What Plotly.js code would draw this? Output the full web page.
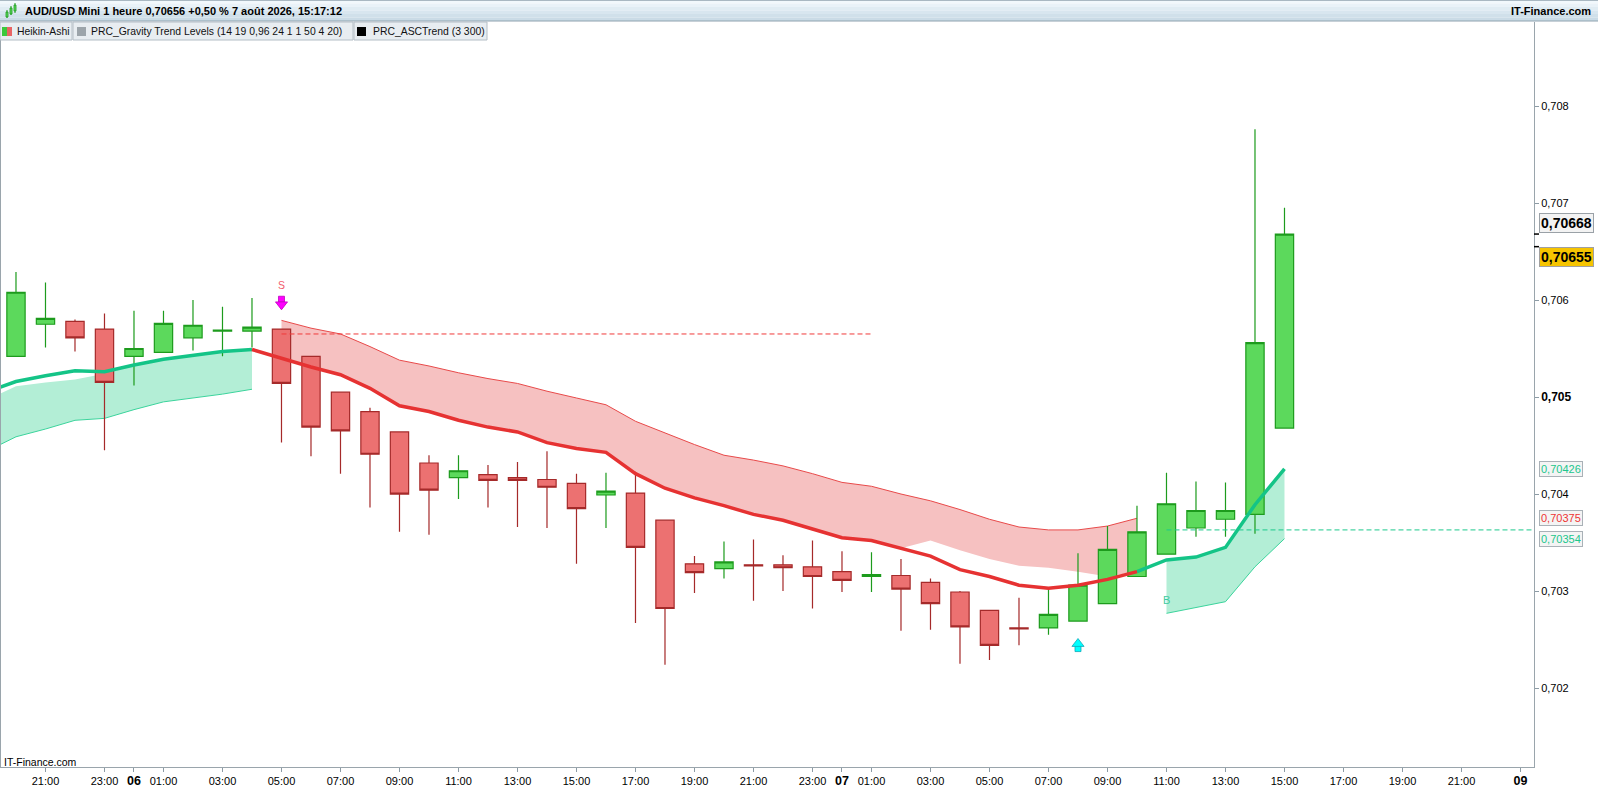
<!DOCTYPE html>
<html><head><meta charset="utf-8">
<script src="https://cdn.plot.ly/plotly-3.0.1.min.js"></script>
<style>html,body{margin:0;padding:0;background:#fff;overflow:hidden}#chart{width:1598px;height:787px}</style>
</head><body><div id="chart"></div>
<script>
// ---------- DATA ----------
// hours counted from 06 Aug 00:00
const hours  = [-4,-3,-2,-1,0,1,2,3,4,5,6,7,8,9,10,11,12,13,14,15,16,17,18,19,20,21,22,23,24,25,26,27,28,29,30,31,32,33,34,35,36,37,38,39];
const openP  = [0.70542,0.70575,0.70578,0.70570,0.70542,0.70546,0.70561,0.70568,0.70568,0.70570,0.70542,0.70505,0.70485,0.70464,0.70432,0.70417,0.70420,0.70417,0.70415,0.70411,0.70399,0.70401,0.70373,0.70328,0.70323,0.70327,0.70327,0.70325,0.70320,0.70315,0.70316,0.70309,0.70299,0.70280,0.70262,0.70262,0.70269,0.70287,0.70315,0.70338,0.70365,0.70374,0.70379,0.70468];
const highP  = [0.70629,0.70618,0.70580,0.70586,0.70589,0.70589,0.70600,0.70593,0.70602,0.70570,0.70542,0.70505,0.70489,0.70464,0.70440,0.70440,0.70430,0.70433,0.70444,0.70421,0.70422,0.70423,0.70373,0.70336,0.70351,0.70353,0.70337,0.70352,0.70341,0.70340,0.70333,0.70313,0.70300,0.70280,0.70293,0.70301,0.70339,0.70367,0.70388,0.70422,0.70413,0.70412,0.70776,0.70695];
const lowP   = [0.70542,0.70551,0.70547,0.70445,0.70512,0.70546,0.70548,0.70542,0.70551,0.70453,0.70439,0.70421,0.70386,0.70361,0.70358,0.70395,0.70386,0.70366,0.70365,0.70328,0.70365,0.70267,0.70224,0.70298,0.70313,0.70290,0.70300,0.70282,0.70299,0.70299,0.70259,0.70260,0.70225,0.70229,0.70244,0.70255,0.70269,0.70287,0.70315,0.70338,0.70356,0.70356,0.70359,0.70468];
const closeP = [0.70608,0.70581,0.70561,0.70515,0.70550,0.70576,0.70574,0.70569,0.70572,0.70514,0.70469,0.70465,0.70441,0.70400,0.70404,0.70424,0.70414,0.70414,0.70407,0.70385,0.70403,0.70345,0.70282,0.70319,0.70330,0.70326,0.70324,0.70315,0.70311,0.70317,0.70302,0.70287,0.70263,0.70244,0.70261,0.70276,0.70306,0.70343,0.70361,0.70390,0.70383,0.70383,0.70556,0.70668];

// ASCTrend / gravity centre line
const trendHours = [-5,-4,-3,-2,-1,0,1,2,3,4,5,6,7,8,9,10,11,12,13,14,15,16,17,18,19,20,21,22,23,24,25,26,27,28,29,30,31,32,33,34,35,36,37,38,39];
const trendVal   = [0.70505,0.70516,0.70522,0.70527,0.70526,0.70533,0.70539,0.70543,0.70547,0.70549,0.70540,0.70531,0.70523,0.70509,0.70491,0.70485,0.70476,0.70469,0.70464,0.70453,0.70447,0.70443,0.70421,0.70406,0.70396,0.70388,0.70379,0.70373,0.70364,0.70355,0.70352,0.70344,0.70336,0.70322,0.70315,0.70306,0.70303,0.70306,0.70312,0.70320,0.70332,0.70335,0.70345,0.70389,0.70426];
const trendDir   = [1,1,1,1,1,1,1,1,1,1,-1,-1,-1,-1,-1,-1,-1,-1,-1,-1,-1,-1,-1,-1,-1,-1,-1,-1,-1,-1,-1,-1,-1,-1,-1,-1,-1,-1,-1,-1,1,1,1,1,1];

// up-trend band #1
const upHoursA = [-5,-4,-3,-2,-1,0,1,2,3,4];
const upLowA   = [0.70444,0.70459,0.70467,0.70476,0.70478,0.70487,0.70495,0.70499,0.70503,0.70508];
const upTopA   = [0.70497,0.70511,0.70515,0.70518,0.70524,0.70533,0.70539,0.70543,0.70547,0.70549];
// down-trend band
const downHours = [5,6,7,8,9,10,11,12,13,14,15,16,17,18,19,20,21,22,23,24,25,26,27,28,29,30,31,32,33,34];
const downHigh  = [0.70579,0.70571,0.70565,0.70552,0.70538,0.70532,0.70525,0.70519,0.70514,0.70506,0.70499,0.70492,0.70475,0.70463,0.70451,0.70440,0.70435,0.70429,0.70421,0.70412,0.70408,0.70400,0.70393,0.70384,0.70374,0.70366,0.70363,0.70363,0.70367,0.70375];
const downLow   = [0.70540,0.70531,0.70523,0.70509,0.70491,0.70485,0.70476,0.70469,0.70464,0.70453,0.70447,0.70443,0.70421,0.70406,0.70396,0.70388,0.70379,0.70373,0.70364,0.70355,0.70352,0.70344,0.70352,0.70342,0.70333,0.70326,0.70324,0.70320,0.70315,0.70320];
// up-trend band #2
const upHoursB = [35,36,37,38,39];
const upLowB   = [0.70277,0.70283,0.70289,0.70325,0.70354];

// horizontal levels
const sellLevel = {value:0.70565, from:5, to:25};
const buyLevel  = {value:0.70363, from:35, to:48};
// signals
const sellSignal = {hour:5, tip:0.70590, label:'S', labelPrice:0.70616};
const buySignal  = {hour:32, tip:0.70251};
const buyLabel   = {hour:35, price:0.70291, label:'B'};
const lastQuote  = 0.70655;

// axes
const xTickVals = [-3,-1,0,1,3,5,7,9,11,13,15,17,19,21,23,24,25,27,29,31,33,35,37,39,41,43,45,47];
const xTickText = ['21:00','23:00','06','01:00','03:00','05:00','07:00','09:00','11:00','13:00','15:00','17:00','19:00','21:00','23:00','07','01:00','03:00','05:00','07:00','09:00','11:00','13:00','15:00','17:00','19:00','21:00','09'];
const dayTicks  = ['06','07','09'];
const yTickVals = [0.702,0.703,0.704,0.705,0.706,0.707,0.708];
const yTickText = ['0,702','0,703','0,704','0,705','0,706','0,707','0,708'];
const yMajor    = '0,705';

// ---------- GEOMETRY ----------
const W=1598,H=787,ML=1,MR=64,MT=22,MB=20;
const PW=W-ML-MR, PH=H-MT-MB;
const xRange=[-4.508,47.458], yRange=[0.701186,0.708866];
const upp=(yRange[1]-yRange[0])/PH;
const px=p=>(p-ML)/PW, py=p=>(H-MB-p)/PH;
const fmt=v=>v.toFixed(5).replace('.',',');

const GREEN='#14c487', GREENFILL='#b3eed6', GREENTHIN='#3bd49c';
const RED='#e63232', REDFILL='#f6c1c1', REDTHIN='#e84a4a';

const traces=[];
// fills (base subplot)
traces.push({x:upHoursA,y:upLowA,type:'scatter',mode:'lines',line:{color:GREENTHIN,width:1},hoverinfo:'skip'});
traces.push({x:upHoursA,y:upTopA,type:'scatter',mode:'lines',line:{width:0},fill:'tonexty',fillcolor:GREENFILL,hoverinfo:'skip'});
traces.push({x:downHours,y:downLow,type:'scatter',mode:'lines',line:{width:0},hoverinfo:'skip'});
traces.push({x:downHours,y:downHigh,type:'scatter',mode:'lines',line:{color:REDTHIN,width:1},fill:'tonexty',fillcolor:REDFILL,hoverinfo:'skip'});
const upTopB = upHoursB.map(h=>trendVal[trendHours.indexOf(h)]);
traces.push({x:upHoursB,y:upLowB,type:'scatter',mode:'lines',line:{color:GREENTHIN,width:1},hoverinfo:'skip'});
traces.push({x:upHoursB,y:upTopB,type:'scatter',mode:'lines',line:{width:0},fill:'tonexty',fillcolor:GREENFILL,hoverinfo:'skip'});

// candles (overlay subplot)
traces.push({type:'candlestick',x:hours,open:openP,high:highP,low:lowP,close:closeP,xaxis:'x2',yaxis:'y2',
  whiskerwidth:0,hoverinfo:'skip',
  increasing:{fillcolor:'#5cd95c',line:{color:'#1d9b1d',width:1.2}},
  decreasing:{fillcolor:'#ec7171',line:{color:'#a52a2a',width:1.2}}});

// trend segments
function seg(dir){
  const xs=[],ys=[];
  for(let i=1;i<trendHours.length;i++){
    if(trendDir[i]!==dir) continue;
    if(i===1||trendDir[i-1]!==dir||(i-1===0)){
      if(xs.length) {xs.push(null);ys.push(null);}
      xs.push(trendHours[i-1]); ys.push(trendVal[i-1]);
    }
    xs.push(trendHours[i]); ys.push(trendVal[i]);
  }
  return {xs,ys};
}
const gs=seg(1), rs=seg(-1);
traces.push({x:gs.xs,y:gs.ys,type:'scatter',mode:'lines',line:{color:GREEN,width:3.5},xaxis:'x2',yaxis:'y2',hoverinfo:'skip'});
traces.push({x:rs.xs,y:rs.ys,type:'scatter',mode:'lines',line:{color:RED,width:3.5},xaxis:'x2',yaxis:'y2',hoverinfo:'skip'});

// levels
traces.push({x:[sellLevel.from,sellLevel.to],y:[sellLevel.value,sellLevel.value],type:'scatter',mode:'lines',line:{color:'#f03a3a',width:1,dash:'5px,3px'},xaxis:'x2',yaxis:'y2',hoverinfo:'skip'});
traces.push({x:[buyLevel.from,buyLevel.to],y:[buyLevel.value,buyLevel.value],type:'scatter',mode:'lines',line:{color:'#1cc98c',width:1,dash:'5px,3px'},xaxis:'x2',yaxis:'y2',hoverinfo:'skip'});

// arrows
traces.push({x:[sellSignal.hour],y:[sellSignal.tip+10.5*upp],type:'scatter',mode:'markers',marker:{symbol:'square',size:6,color:'#ff00ff',line:{color:'#c000c0',width:0.8}},xaxis:'x2',yaxis:'y2',hoverinfo:'skip'});
traces.push({x:[sellSignal.hour],y:[sellSignal.tip+5.2*upp],type:'scatter',mode:'markers',marker:{symbol:'triangle-down',size:10.5,color:'#ff00ff',line:{color:'#c000c0',width:0.8}},xaxis:'x2',yaxis:'y2',hoverinfo:'skip'});
traces.push({x:[buySignal.hour],y:[buySignal.tip-10*upp],type:'scatter',mode:'markers',marker:{symbol:'square',size:6,color:'#00ffff',line:{color:'#10a8b8',width:0.8}},xaxis:'x2',yaxis:'y2',hoverinfo:'skip'});
traces.push({x:[buySignal.hour],y:[buySignal.tip-5.2*upp],type:'scatter',mode:'markers',marker:{symbol:'triangle-up',size:10.5,color:'#00ffff',line:{color:'#10a8b8',width:0.8}},xaxis:'x2',yaxis:'y2',hoverinfo:'skip'});

// ---------- LAYOUT ----------
const FONT='"Liberation Sans", Arial, sans-serif';
const shapes=[], ann=[];
// header row gradient
const grad=['#f1f8fc','#e9f2f8','#e0ecf3','#d8e6ef','#d0e0ea','#cadbe6'];
for(let i=0;i<grad.length;i++){
  const a=i*21/grad.length, b=(i+1)*21/grad.length;
  shapes.push({type:'rect',xref:'paper',yref:'paper',x0:px(-2),x1:px(W+2),y0:py(b),y1:py(a),fillcolor:grad[i],line:{width:0},layer:'above'});
}
shapes.push({type:'line',xref:'paper',yref:'paper',x0:px(-2),x1:px(W+2),y0:py(21),y1:py(21),line:{color:'#8fa2af',width:1},layer:'above'});
shapes.push({type:'line',xref:'paper',yref:'paper',x0:px(-2),x1:px(W+2),y0:py(0.5),y1:py(0.5),line:{color:'#a9b8c2',width:1},layer:'above'});
// header icon candles
[[6,8,12,17,10,18],[10,12,8,14,6,15],[14,16,5,11,3,13]].forEach(c=>{
  shapes.push({type:'line',xref:'paper',yref:'paper',x0:px((c[0]+c[1])/2),x1:px((c[0]+c[1])/2),y0:py(c[5]),y1:py(c[4]),line:{color:'#1d9b1d',width:1},layer:'above'});
  shapes.push({type:'rect',xref:'paper',yref:'paper',x0:px(c[0]),x1:px(c[1]),y0:py(c[3]),y1:py(c[2]),fillcolor:'#5cd95c',line:{color:'#1d9b1d',width:0.8},layer:'above'});
});
ann.push({xref:'paper',yref:'paper',x:px(23),y:py(11),xanchor:'left',yanchor:'middle',showarrow:false,text:'<b>AUD/USD Mini 1 heure 0,70656 +0,50 % 7 août 2026, 15:17:12</b>',font:{family:FONT,size:11,color:'#000'}});
ann.push({xref:'paper',yref:'paper',x:px(1593),y:py(11),xanchor:'right',yanchor:'middle',showarrow:false,text:'<b>IT-Finance.com</b>',font:{family:FONT,size:11,color:'#000'}});
// legend boxes
const legends=[
  {x0:0,x1:72,text:'Heikin-Ashi',tx:15,icon:[['#3cc83c',2,7],['#e86464',7,12]]},
  {x0:73,x1:353,text:'PRC_Gravity Trend Levels (14 19 0,96 24 1 1 50 4 20)',tx:89,icon:[['#9ca4aa',77,86]]},
  {x0:354,x1:487,text:'PRC_ASCTrend (3 300)',tx:371,icon:[['#000000',357,366]]}
];
legends.forEach(l=>{
  shapes.push({type:'rect',xref:'paper',yref:'paper',x0:px(l.x0),x1:px(l.x1),y0:py(40),y1:py(22),fillcolor:'#e8edf1',line:{color:'#b4bec6',width:1},layer:'above'});
  l.icon.forEach(ic=>shapes.push({type:'rect',xref:'paper',yref:'paper',x0:px(ic[1]),x1:px(ic[2]),y0:py(36),y1:py(27),fillcolor:ic[0],line:{width:0},layer:'above'}));
  ann.push({xref:'paper',yref:'paper',x:px(l.tx),y:py(31),xanchor:'left',yanchor:'middle',showarrow:false,text:l.text,font:{family:FONT,size:10.4,color:'#111'}});
});
// watermark
ann.push({xref:'paper',yref:'paper',x:px(2),y:py(762),xanchor:'left',yanchor:'middle',showarrow:false,text:'IT-Finance.com',font:{family:FONT,size:10.5,color:'#000'}});
// signal labels
ann.push({xref:'x',yref:'y',x:sellSignal.hour,y:sellSignal.labelPrice,showarrow:false,text:sellSignal.label,font:{family:FONT,size:10.5,color:'#f25c6c'}});
ann.push({xref:'x',yref:'y',x:buyLabel.hour,y:buyLabel.price,showarrow:false,text:buyLabel.label,font:{family:FONT,size:11,color:'#3ccaa0'}});
// right price labels
const lastClose=closeP[closeP.length-1];
const priceLabels=[
  {v:lastClose,shift:11,bold:true,size:14,color:'#000',bg:'#f3f3f3',bc:'#9aa1a7',mark:true},
  {v:lastQuote,shift:-10,bold:true,size:14,color:'#000',bg:'#f6c400',bc:'#a0a0a0',mark:true},
  {v:trendVal[trendVal.length-1],shift:0,size:11,color:'#20c68c',bg:'#f4f4f4',bc:'#a9b1b7'},
  {v:downHigh[downHigh.length-1],shift:0,size:11,color:'#ee3434',bg:'#f4f4f4',bc:'#a9b1b7'},
  {v:upLowB[upLowB.length-1],shift:0,size:11,color:'#20c68c',bg:'#f4f4f4',bc:'#a9b1b7'}
];
priceLabels.forEach(p=>{
  const t=fmt(p.v);
  ann.push({xref:'paper',yref:'y',x:px(1539),y:p.v,yshift:p.shift,xanchor:'left',yanchor:'middle',showarrow:false,
    text:p.bold?'<b>'+t+'</b>':t,font:{family:FONT,size:p.size,color:p.color},bgcolor:p.bg,bordercolor:p.bc,borderwidth:1,borderpad:1});
  if(p.mark) shapes.push({type:'line',xref:'paper',yref:'y',x0:px(1534),x1:px(1539),y0:p.v,y1:p.v,line:{color:'#000',width:1.5}});
});

const layout={
  width:W,height:H,margin:{l:ML,r:MR,t:MT,b:MB,pad:0},
  paper_bgcolor:'#ffffff',plot_bgcolor:'#ffffff',showlegend:false,hovermode:false,
  font:{family:FONT,size:11,color:'#000'},
  boxgap:0.38,boxgroupgap:0,
  xaxis:{range:xRange,tickmode:'array',tickvals:xTickVals,
    ticktext:xTickText.map(t=>dayTicks.includes(t)?'<b><span style="font-size:12.5px">'+t+'</span></b>':t),
    ticks:'outside',ticklen:4,tickcolor:'#8c9ba5',showline:true,linecolor:'#9aa5ac',linewidth:1,
    showgrid:false,zeroline:false,tickfont:{family:FONT,size:11,color:'#000'},rangeslider:{visible:false},fixedrange:true},
  yaxis:{range:yRange,side:'right',tickmode:'array',tickvals:yTickVals,
    ticktext:yTickText.map(t=>t===yMajor?'<b><span style="font-size:12px">'+t+'</span></b>':t),
    ticks:'outside',ticklen:4,tickcolor:'#8c9ba5',showline:true,mirror:true,linecolor:'#9aa5ac',linewidth:1,
    showgrid:false,zeroline:false,tickfont:{family:FONT,size:11,color:'#000'},fixedrange:true},
  xaxis2:{range:xRange,overlaying:'x',anchor:'y2',visible:false,rangeslider:{visible:false},fixedrange:true},
  yaxis2:{range:yRange,overlaying:'y',anchor:'x2',side:'right',visible:false,fixedrange:true},
  shapes:shapes,annotations:ann
};
Plotly.newPlot('chart',traces,layout,{staticPlot:true,displayModeBar:false});
</script></body></html>
